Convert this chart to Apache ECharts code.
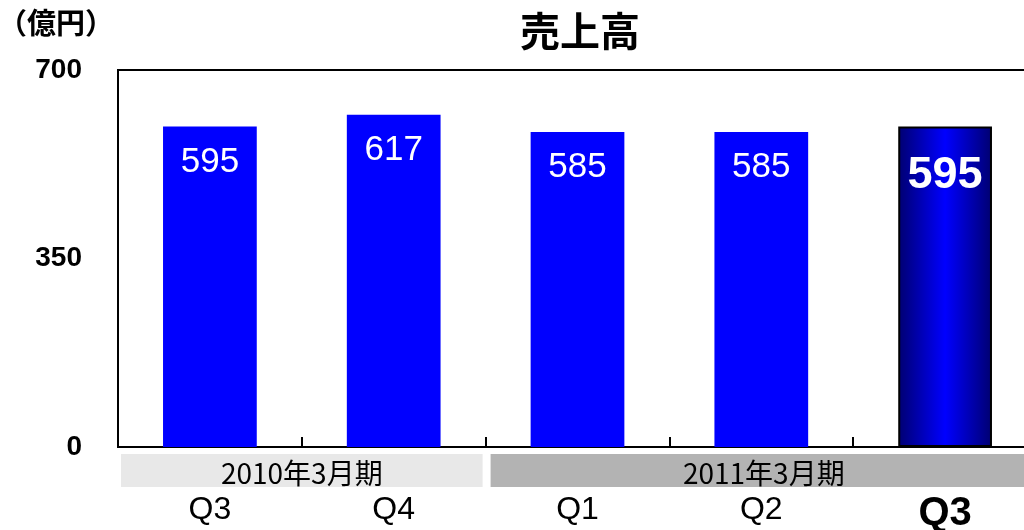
<!DOCTYPE html>
<html>
<head>
    <meta charset="utf-8">
    <title>売上高</title>
    <script src="https://cdn.jsdelivr.net/npm/echarts@6/dist/echarts.min.js"></script>
    <style>
        html, body { margin: 0; padding: 0; background: #fff; }
        #chart1 { width: 1024px; height: 530px; }
    </style>
</head>
<body>
<div id="chart1"></div>
<script type="text/javascript">
    // 四半期と売上高（億円）
    var quarters = ['Q3', 'Q4', 'Q1', 'Q2', 'Q3'];
    var sales = [595, 617, 585, 585, 595];
    var yTicks = [0, 350, 700];
    // 決算期のグループ（開始・終了インデックス）
    var periods = ['2010年3月期', '2011年3月期'];
    var periodStart = [0, 2];
    var periodEnd = [1, 4];
    var periodColors = ['#e8e8e8', '#b3b3b3'];

    var jp = '"Noto Sans CJK JP", sans-serif';
    var num = '"Liberation Sans", Arial, sans-serif';
    var last = sales.length - 1;

    var barData = sales.map(function (v, i) {
        if (i !== last) return v;
        return {
            value: v,
            itemStyle: {
                color: new echarts.graphic.LinearGradient(0, 0, 1, 0, [
                    {offset: 0, color: '#000070'},
                    {offset: 0.5, color: '#0000ff'},
                    {offset: 1, color: '#000070'}
                ]),
                borderColor: '#000',
                borderWidth: 2
            },
            label: {fontSize: 45, fontWeight: 'bold', offset: [0, 9]}
        };
    });

    var myChart = echarts.init(document.getElementById('chart1'));
    myChart.setOption({
        animation: false,
        title: {
            text: '売上高',
            left: 575,
            top: 6,
            textAlign: 'center',
            textStyle: {fontFamily: jp, fontSize: 40, fontWeight: 'bold', color: '#000'}
        },
        grid: {
            left: 118,
            right: -13,
            top: 70,
            bottom: 83,
            outerBoundsMode: 'none',
            containLabel: false,
            show: true,
            borderColor: '#000',
            borderWidth: 2
        },
        xAxis: {
            type: 'category',
            data: quarters,
            axisLine: {lineStyle: {color: '#000', width: 2}},
            axisTick: {show: true, inside: true, length: 10, lineStyle: {color: '#000', width: 2}},
            axisLabel: {
                margin: 47,
                color: '#000',
                fontFamily: num,
                fontSize: 32,
                formatter: function (v, i) {
                    return i === last ? '{b|' + v + '}' : v;
                },
                rich: {b: {fontFamily: num, fontSize: 40, fontWeight: 'bold', color: '#000'}}
            }
        },
        yAxis: {
            type: 'value',
            min: yTicks[0],
            max: yTicks[yTicks.length - 1],
            interval: yTicks[1] - yTicks[0],
            splitLine: {show: false},
            axisLine: {show: true, lineStyle: {color: '#000', width: 2}},
            axisTick: {show: false},
            axisLabel: {color: '#000', fontFamily: num, fontSize: 28, fontWeight: 'bold', margin: 36}
        },
        series: [{
            type: 'bar',
            data: barData,
            barWidth: '51%',
            itemStyle: {color: '#0000ff'},
            label: {
                show: true,
                position: 'insideTop',
                distance: 18,
                color: '#fff',
                fontFamily: num,
                fontSize: 35
            }
        }]
    });

    // 単位と決算期の帯（帯の位置は軸の座標から作る）
    function catPx(i) {
        return myChart.convertToPixel({xAxisIndex: 0}, i);
    }
    var catW = catPx(1) - catPx(0);
    var graphics = [{
        type: 'text',
        x: -2,
        y: 8,
        style: {text: '（億円）', font: 'bold 29px ' + jp, fill: '#000'}
    }];
    periods.forEach(function (name, k) {
        var x0 = catPx(periodStart[k]) - catW / 2 + (k === 0 ? 3 : 5);
        var x1 = catPx(periodEnd[k]) + catW / 2 - (k === 0 ? 3 : 0);
        graphics.push({
            type: 'rect',
            shape: {x: x0, y: 454, width: x1 - x0, height: 33},
            style: {fill: periodColors[k]},
            z: 1
        });
        graphics.push({
            type: 'text',
            x: (x0 + x1) / 2,
            y: 473,
            style: {text: name, font: '28px ' + jp, fill: '#000', align: 'center', verticalAlign: 'middle'},
            z: 2
        });
    });
    myChart.setOption({graphic: graphics});
</script>
</body>
</html>
